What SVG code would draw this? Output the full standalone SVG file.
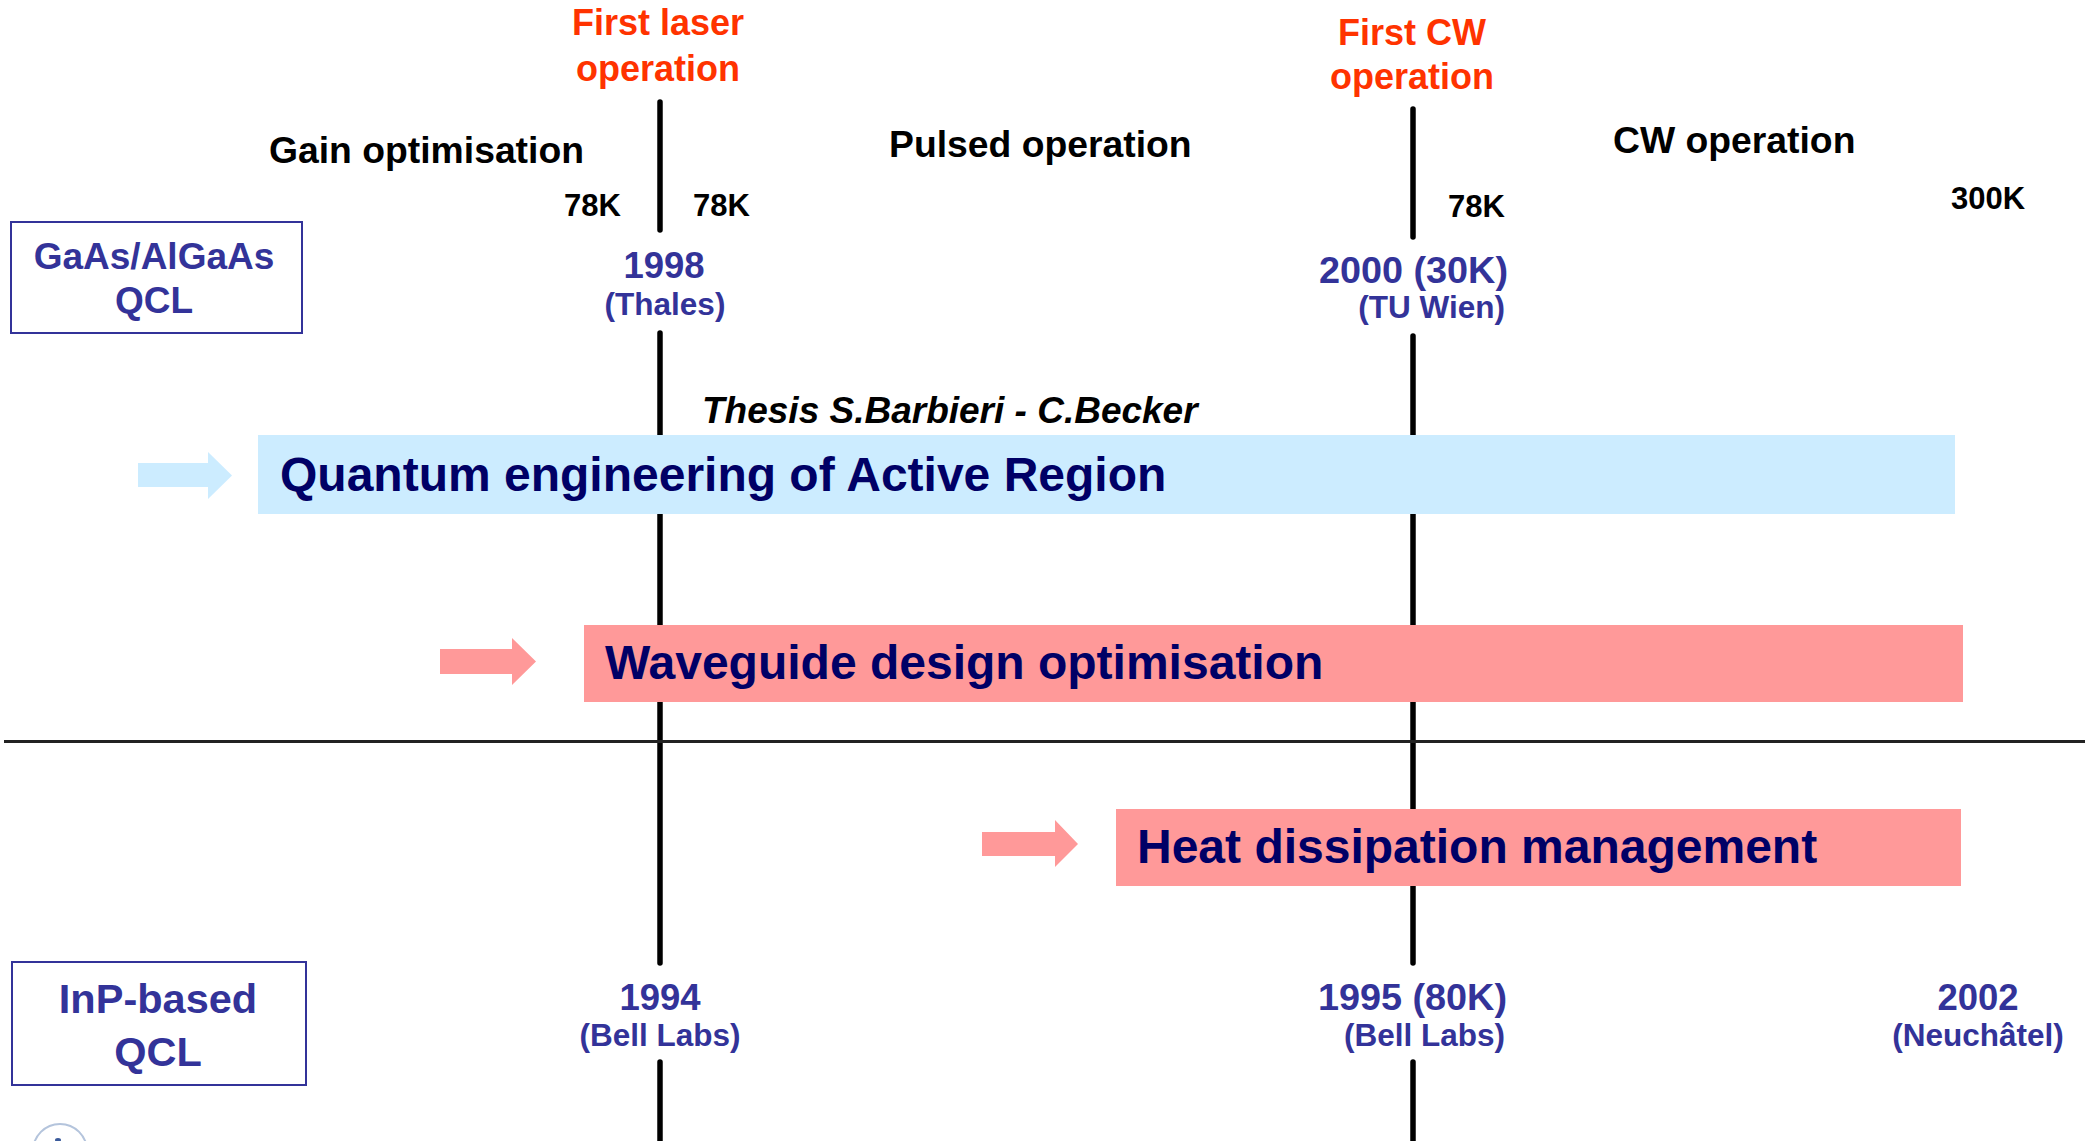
<svg xmlns="http://www.w3.org/2000/svg" width="2098" height="1141" viewBox="0 0 2098 1141">
<style>
text{font-family:"Liberation Sans",Arial,sans-serif;font-weight:bold}
.red{fill:#FF3300;font-size:36px;text-anchor:middle}
.phase{fill:#000;font-size:37.3px}
.temp{fill:#000;font-size:31px}
.yr{fill:#333399;font-size:36.5px}
.yr2{fill:#333399;font-size:37.8px}
.sub{fill:#333399;font-size:31.5px}
.mat{fill:#333399;text-anchor:middle}
.big{fill:#000066;font-size:48px}
.tl{stroke:#000;stroke-width:5.5;stroke-linecap:round;fill:none}
.lbl{fill:#fff;stroke:#333399;stroke-width:2}
</style>
<rect width="2098" height="1141" fill="#fff"/>

<g id="connectors">
<line class="tl" x1="660" y1="102" x2="660" y2="230"/>
<line class="tl" x1="660" y1="333" x2="660" y2="963" stroke-linecap="butt"/>
<line class="tl" x1="660" y1="1062" x2="660" y2="1145" stroke-linecap="butt"/>
<line class="tl" x1="1413" y1="109" x2="1413" y2="237"/>
<line class="tl" x1="1413" y1="336" x2="1413" y2="963" stroke-linecap="butt"/>
<line class="tl" x1="1413" y1="1062" x2="1413" y2="1145" stroke-linecap="butt"/>
<line x1="4" y1="741.5" x2="2085" y2="741.5" stroke="#222" stroke-width="3"/>
</g>

<g id="milestone-first-laser">
<text class="red" x="658" y="35">First laser</text>
<text class="red" x="658" y="81">operation</text>
</g>
<g id="milestone-first-cw">
<text class="red" x="1412" y="45">First CW</text>
<text class="red" x="1412" y="89">operation</text>
</g>

<g id="phase-gain"><text class="phase" x="269" y="163">Gain optimisation</text></g>
<g id="phase-pulsed"><text class="phase" x="889" y="157">Pulsed operation</text></g>
<g id="phase-cw"><text class="phase" x="1613" y="153">CW operation</text></g>

<g id="temps">
<text class="temp" x="564" y="216">78K</text>
<text class="temp" x="693" y="216">78K</text>
<text class="temp" x="1448" y="217">78K</text>
<text class="temp" x="1951" y="209">300K</text>
</g>

<g id="gaas-label">
<rect class="lbl" x="11" y="222" width="291" height="111"/>
<text class="mat" x="154" y="269" font-size="37">GaAs/AlGaAs</text>
<text class="mat" x="154" y="313" font-size="37">QCL</text>
</g>

<g id="gaas-1998">
<text class="yr" x="664" y="278" text-anchor="middle">1998</text>
<text class="sub" x="665" y="315" text-anchor="middle">(Thales)</text>
</g>
<g id="gaas-2000">
<text class="yr2" x="1508" y="283" text-anchor="end">2000 (30K)</text>
<text class="sub" x="1505" y="318" text-anchor="end">(TU Wien)</text>
</g>

<g id="thesis"><text x="702" y="423" font-size="37" font-style="italic" fill="#000">Thesis S.Barbieri - C.Becker</text></g>

<g id="quantum-engineering">
<polygon points="138,463 208,463 208,452 232,475.5 208,499 208,487 138,487" fill="#CCECFF"/>
<rect x="258" y="435" width="1697" height="79" fill="#CCECFF"/>
<text class="big" x="280" y="491">Quantum engineering of Active Region</text>
</g>

<g id="waveguide-design">
<polygon points="440,649 512,649 512,638 536,661.5 512,685 512,674 440,674" fill="#FF9999"/>
<rect x="584" y="625" width="1379" height="77" fill="#FF9999"/>
<text class="big" x="605" y="679">Waveguide design optimisation</text>
</g>

<g id="heat-dissipation">
<polygon points="982,832 1055,832 1055,820 1078,844 1055,867 1055,856 982,856" fill="#FF9999"/>
<rect x="1116" y="809" width="845" height="77" fill="#FF9999"/>
<text class="big" x="1137" y="863">Heat dissipation management</text>
</g>

<g id="inp-label">
<rect class="lbl" x="12" y="962" width="294" height="123"/>
<text class="mat" x="158" y="1013" font-size="41.5">InP-based</text>
<text class="mat" x="158" y="1066" font-size="41.5">QCL</text>
</g>

<g id="inp-1994">
<text class="yr" x="660" y="1010" text-anchor="middle">1994</text>
<text class="sub" x="660" y="1046" text-anchor="middle">(Bell Labs)</text>
</g>
<g id="inp-1995">
<text class="yr2" x="1507" y="1010" text-anchor="end">1995 (80K)</text>
<text class="sub" x="1505" y="1046" text-anchor="end">(Bell Labs)</text>
</g>
<g id="inp-2002">
<text class="yr" x="1978" y="1010" text-anchor="middle">2002</text>
<text class="sub" x="1978" y="1046" text-anchor="middle">(Neuchâtel)</text>
</g>

<g id="logo">
<circle cx="60" cy="1151" r="27" fill="none" stroke="#B4C4DC" stroke-width="2"/>
<ellipse cx="58" cy="1140" rx="3" ry="2" fill="#3A5A9A"/>
</g>
</svg>
